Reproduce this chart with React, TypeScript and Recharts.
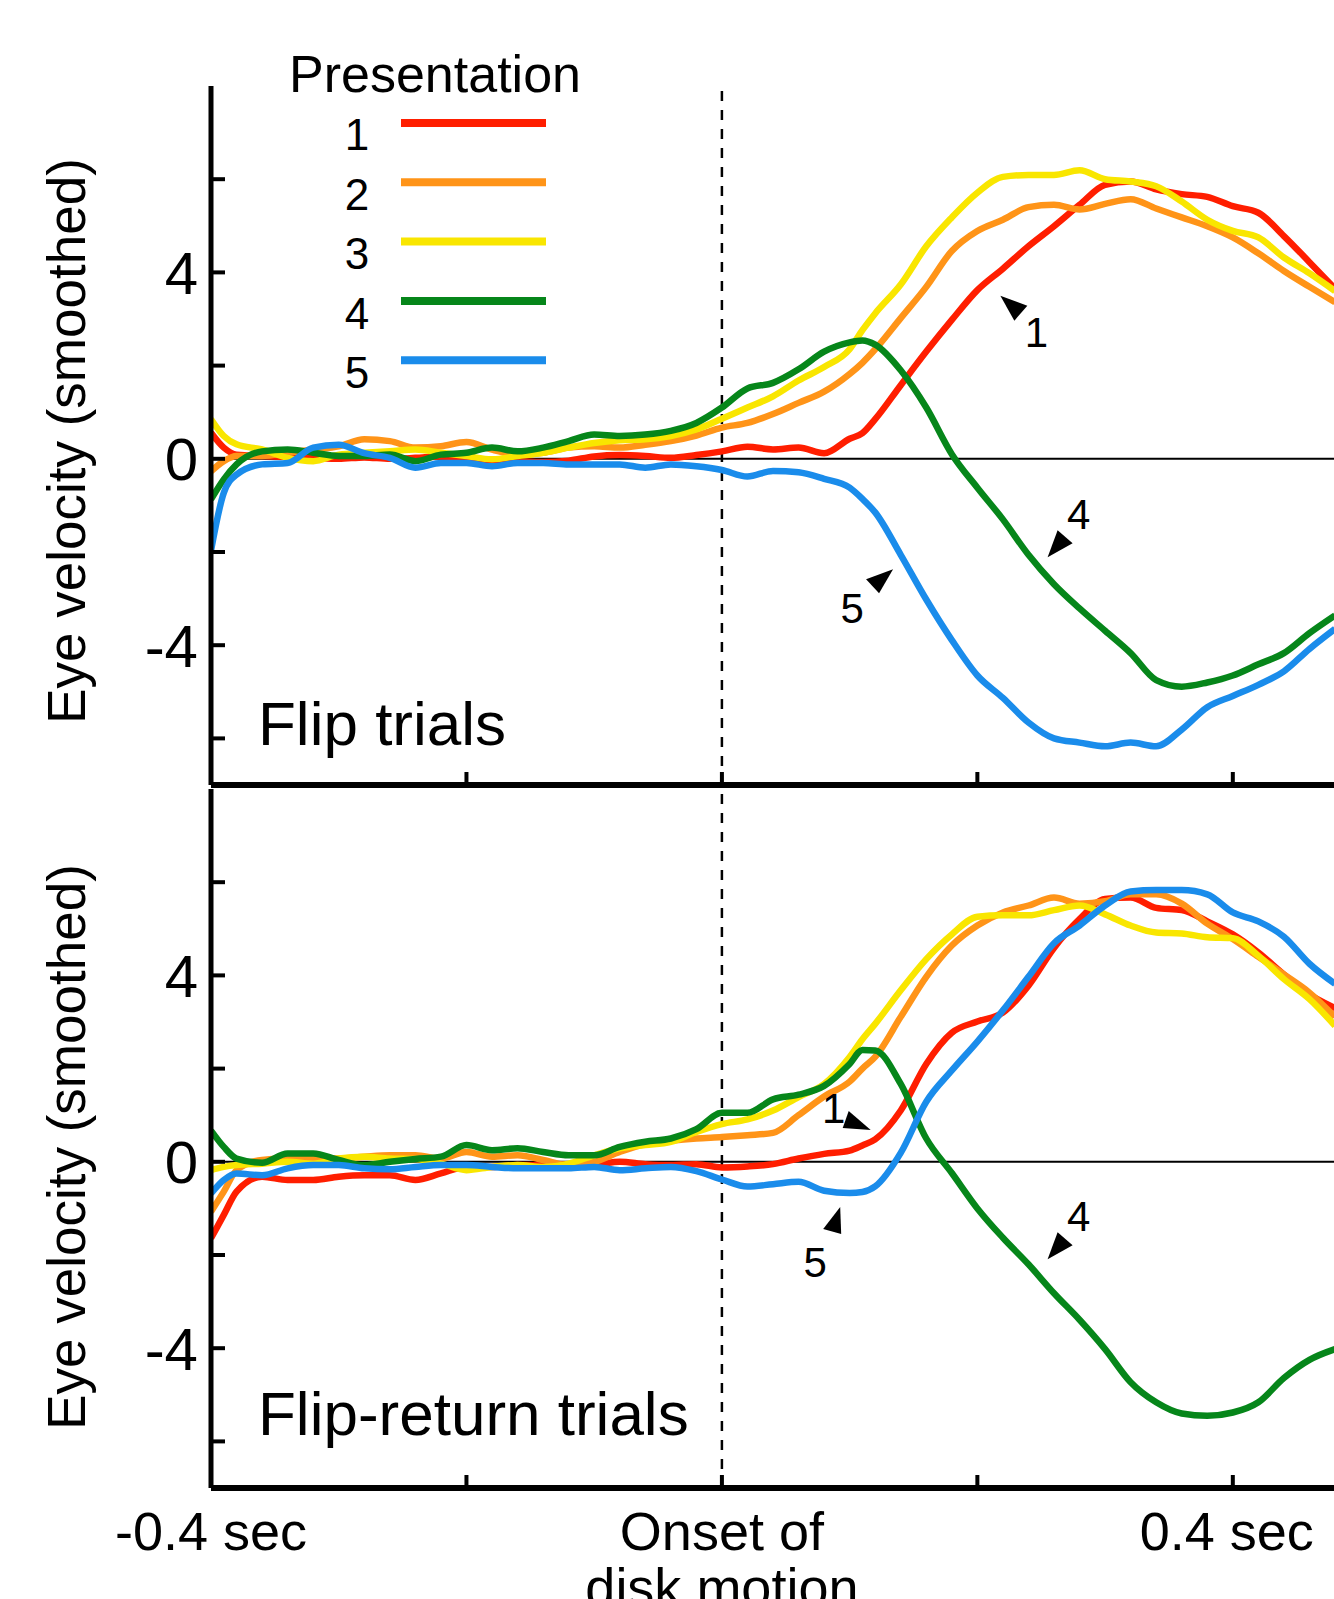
import React from 'react'
import { LineChart, Line, XAxis, YAxis, ReferenceLine, ReferenceDot } from 'recharts'

// time (sec, relative to onset of disk motion)
const times = [
  -0.4, -0.39, -0.38, -0.36, -0.34, -0.32, -0.3, -0.28, -0.26, -0.24, -0.22, -0.2, -0.18, -0.16,
  -0.14, -0.12, -0.1, -0.08, -0.06, -0.04, -0.02, 0, 0.02, 0.04, 0.06, 0.08, 0.1, 0.11, 0.12,
  0.14, 0.16, 0.18, 0.2, 0.22, 0.24, 0.26, 0.28, 0.3, 0.32, 0.34, 0.36, 0.38, 0.4, 0.42, 0.44,
  0.46, 0.48,
]

// Flip trials, presentations 1..5
const flip1 = [
  0.56, 0.24, 0.09, 0.06, 0.04, 0.02, 0.0, 0.03, 0.0, 0.02, 0.05, 0.02, -0.03, -0.05, -0.07, -0.04,
  0.05, 0.08, 0.06, 0.02, 0.08, 0.16, 0.26, 0.2, 0.24, 0.12, 0.43, 0.55, 0.85, 1.58, 2.3, 2.98,
  3.62, 4.08, 4.56, 4.99, 5.45, 5.88, 5.95, 5.78, 5.68, 5.62, 5.42, 5.28, 4.78, 4.22, 3.65,
]
const flip2 = [
  -0.27, -0.05, 0.06, 0.06, 0.13, 0.2, 0.27, 0.42, 0.38, 0.24, 0.27, 0.36, 0.2, 0.09, 0.13, 0.24,
  0.27, 0.24, 0.3, 0.38, 0.5, 0.67, 0.77, 0.96, 1.2, 1.44, 1.82, 2.06, 2.35, 3.02, 3.69, 4.46,
  4.89, 5.13, 5.4, 5.45, 5.35, 5.47, 5.57, 5.37, 5.18, 4.99, 4.75, 4.41, 4.03, 3.69, 3.36,
]
const flip3 = [
  0.85, 0.49, 0.31, 0.2, 0.02, -0.05, 0.09, 0.13, 0.16, 0.2, 0.13, 0.06, -0.01, 0.06, 0.13, 0.24,
  0.34, 0.4, 0.42, 0.49, 0.63, 0.86, 1.1, 1.34, 1.68, 1.97, 2.35, 2.76, 3.12, 3.74, 4.56, 5.18,
  5.71, 6.05, 6.09, 6.09, 6.19, 6.0, 5.95, 5.85, 5.52, 5.13, 4.89, 4.75, 4.32, 3.98, 3.6,
]
const flip4 = [
  -0.87, -0.44, -0.12, 0.16, 0.2, 0.13, 0.06, 0.06, 0.09, -0.05, 0.09, 0.13, 0.24, 0.16, 0.24, 0.38,
  0.52, 0.49, 0.52, 0.6, 0.77, 1.1, 1.51, 1.63, 1.92, 2.3, 2.5, 2.54, 2.45, 1.9, 1.1, 0.1,
  -0.62, -1.3, -2.06, -2.69, -3.21, -3.69, -4.17, -4.75, -4.89, -4.8, -4.65, -4.41, -4.17, -3.74,
  -3.36,
]
const flip5 = [
  -1.97, -0.73, -0.34, -0.12, -0.09, 0.24, 0.3, 0.12, 0.02, -0.19, -0.09, -0.09, -0.16, -0.09,
  -0.09, -0.12, -0.12, -0.12, -0.19, -0.12, -0.16, -0.24, -0.38, -0.26, -0.29, -0.43, -0.62, -0.86,
  -1.15, -2.06, -3.02, -3.89, -4.65, -5.13, -5.66, -6.0, -6.09, -6.17, -6.09, -6.17, -5.81, -5.33,
  -5.09, -4.85, -4.56, -4.08, -3.65,
]

// Flip-return trials, presentations 1..5
const flipReturn1 = [
  -1.64, -1.14, -0.64, -0.32, -0.39, -0.39, -0.32, -0.29, -0.29, -0.39, -0.25, -0.11, -0.11, -0.07,
  -0.07, -0.05, -0.05, 0.0, -0.05, -0.07, -0.05, -0.12, -0.1, -0.05, 0.07, 0.17, 0.24, 0.35, 0.48,
  1.1, 2.1, 2.77, 3.01, 3.2, 3.78, 4.59, 5.21, 5.64, 5.67, 5.45, 5.4, 5.16, 4.88, 4.49, 4.02, 3.59,
  3.3,
]
const flipReturn2 = [
  -1.07, -0.64, -0.18, 0.04, 0.07, 0.07, 0.07, 0.11, 0.14, 0.14, 0.07, 0.21, 0.11, 0.14, 0.04,
  -0.07, 0.0, 0.21, 0.38, 0.45, 0.5, 0.53, 0.57, 0.62, 1.0, 1.4, 1.72, 2.0, 2.25, 3.11, 3.97,
  4.64, 5.07, 5.35, 5.5, 5.67, 5.54, 5.59, 5.74, 5.74, 5.54, 5.11, 4.78, 4.4, 4.02, 3.63, 3.11,
]
const flipReturn3 = [
  -0.18, -0.11, -0.07, -0.04, 0.0, -0.04, 0.07, 0.11, 0.07, 0.06, -0.04, -0.18, -0.11, -0.07, -0.11,
  -0.04, 0.14, 0.29, 0.36, 0.43, 0.64, 0.81, 0.91, 1.1, 1.39, 1.67, 2.25, 2.63, 2.96, 3.68, 4.35,
  4.88, 5.26, 5.29, 5.29, 5.4, 5.5, 5.31, 5.07, 4.92, 4.9, 4.82, 4.8, 4.42, 3.92, 3.49, 2.92,
]
const flipReturn4 = [
  0.67, 0.32, 0.07, -0.02, 0.18, 0.18, 0.04, -0.07, 0.0, 0.06, 0.11, 0.36, 0.25, 0.29, 0.21, 0.14,
  0.14, 0.32, 0.43, 0.5, 0.7, 1.05, 1.05, 1.34, 1.44, 1.63, 2.1, 2.4, 2.39, 1.67, 0.5, -0.24, -1.0,
  -1.63, -2.2, -2.82, -3.39, -4.02, -4.73, -5.16, -5.4, -5.45, -5.38, -5.16, -4.64, -4.25, -4.02,
]
const flipReturn5 = [
  -0.68, -0.39, -0.25, -0.29, -0.14, -0.07, -0.07, -0.14, -0.16, -0.11, -0.07, -0.07, -0.11, -0.14,
  -0.14, -0.14, -0.11, -0.18, -0.14, -0.11, -0.2, -0.38, -0.53, -0.48, -0.43, -0.62, -0.67, -0.65,
  -0.53, 0.19, 1.29, 1.96, 2.58, 3.25, 3.97, 4.69, 5.07, 5.5, 5.8, 5.83, 5.83, 5.74, 5.35, 5.16,
  4.83, 4.25, 3.82,
]

const seriesNames = ['1', '2', '3', '4', '5']
const seriesColors = ['#ff1e00', '#ff9418', '#f9e600', '#06861a', '#1a8ceb']

const yTicks = [-6, -4, -2, 0, 2, 4, 6]
const yLabelled = [-4, 0, 4]
const xTicks = [-0.4, -0.2, 0, 0.2, 0.4]
const xTickLabels = [['-0.4 sec'], [], ['Onset of', 'disk motion'], [], ['0.4 sec']]

// arrow annotations (tip position in data units)
const flipNotes = [
  { t: 0.218, v: 3.5, label: '1', kind: 'upLeft' },
  { t: 0.255, v: -2.11, label: '4', kind: 'downLeft' },
  { t: 0.134, v: -2.37, label: '5', kind: 'upRight' },
]
const flipReturnNotes = [
  { t: 0.1165, v: 0.68, label: '1', kind: 'right' },
  { t: 0.0926, v: -0.97, label: '5', kind: 'up' },
  { t: 0.255, v: -2.09, label: '4', kind: 'downLeft' },
]

const FONT = '"Liberation Sans", Arial, Helvetica, sans-serif'

const arrowShapes: Record<string, { tri: number[][]; text: number[] }> = {
  upLeft: { tri: [[0, 0], [27, 10], [14, 25]], text: [36, 36] },
  downLeft: { tri: [[0, 0], [25, -14], [10, -27]], text: [31, -43] },
  upRight: { tri: [[0, 0], [-27, 10], [-14, 24]], text: [-41, 39] },
  right: { tri: [[0, 0], [-28, -2], [-22, -19]], text: [-37, -22] },
  up: { tri: [[0, 0], [-17, 22], [1, 27]], text: [-25, 55] },
}

function Note({ cx, cy, label, kind }: any) {
  const s = arrowShapes[kind]
  const pts = s.tri.map(([dx, dy]) => `${cx + dx},${cy + dy}`).join(' ')
  return (
    <g>
      <polygon points={pts} fill="#000" />
      <text
        x={cx + s.text[0]}
        y={cy + s.text[1]}
        dy="0.36em"
        textAnchor="middle"
        fontSize={42}
        fontFamily={FONT}
      >
        {label}
      </text>
    </g>
  )
}

function YTick(props: any) {
  const { x, y, payload } = props
  const v = payload.value
  return (
    <g>
      <line x1={x} x2={x + 14} y1={y} y2={y} stroke="#000" strokeWidth={4} />
      {yLabelled.includes(v) && (
        <text x={x - 13} y={y} dy="0.36em" textAnchor="end" fontSize={60} fontFamily={FONT}>
          {v}
        </text>
      )}
    </g>
  )
}

const makeXTick = (showLabels: boolean) => (props: any) => {
  const { x, y, payload } = props
  const idx = xTicks.indexOf(payload.value)
  const lines = showLabels && idx >= 0 ? xTickLabels[idx] : []
  // last label sits a little left of its tick in the original
  const dx = idx === xTicks.length - 1 ? -6 : 0
  return (
    <g>
      {idx > 0 && <line x1={x} x2={x} y1={y} y2={y - 13} stroke="#000" strokeWidth={4} />}
      {lines.map((s, i) => (
        <text
          key={s}
          x={x + dx}
          y={y + 62 + i * 56}
          textAnchor="middle"
          fontSize={54}
          fontFamily={FONT}
        >
          {s}
        </text>
      ))}
    </g>
  )
}

function buildRows(cols: number[][]) {
  return times.map((t, i) => {
    const row: any = { t }
    cols.forEach((c, k) => (row['s' + (k + 1)] = c[i]))
    return row
  })
}

const flipRows = buildRows([flip1, flip2, flip3, flip4, flip5])
const flipReturnRows = buildRows([flipReturn1, flipReturn2, flipReturn3, flipReturn4, flipReturn5])

function Panel({ rows, notes, top, height, marginTop, xAxisHeight, showXLabels }: any) {
  return (
    <div style={{ position: 'absolute', left: 0, top }}>
      <LineChart
        width={1335}
        height={height}
        data={rows}
        margin={{ top: marginTop, right: 0, bottom: 0, left: 0 }}
      >
        <XAxis
          dataKey="t"
          type="number"
          domain={[-0.4, 0.48]}
          ticks={xTicks}
          interval={0}
          allowDataOverflow
          height={xAxisHeight}
          tickSize={0}
          tickMargin={0}
          tickLine={false}
          axisLine={{ stroke: '#000', strokeWidth: 6 }}
          tick={makeXTick(showXLabels)}
        />
        <YAxis
          type="number"
          domain={[-7, 8]}
          ticks={yTicks}
          interval={0}
          allowDataOverflow
          width={211}
          tickSize={0}
          tickMargin={0}
          tickLine={false}
          axisLine={{ stroke: '#000', strokeWidth: 5 }}
          tick={YTick}
        />
        <ReferenceLine y={0} stroke="#000" strokeWidth={2} />
        <ReferenceLine x={0} stroke="#000" strokeWidth={2.5} strokeDasharray="10 9" />
        {seriesNames.map((n, i) => (
          <Line
            key={n}
            dataKey={'s' + (i + 1)}
            name={n}
            type="monotone"
            stroke={seriesColors[i]}
            strokeWidth={6.5}
            dot={false}
            isAnimationActive={false}
          />
        ))}
        {notes.map((a: any) => (
          <ReferenceDot
            key={a.label}
            x={a.t}
            y={a.v}
            r={1}
            ifOverflow="visible"
            shape={(p: any) => <Note cx={p.cx} cy={p.cy} label={a.label} kind={a.kind} />}
          />
        ))}
      </LineChart>
    </div>
  )
}

export default function App() {
  return (
    <div
      style={{
        position: 'absolute',
        left: 0,
        top: 0,
        width: 1334,
        height: 1599,
        overflow: 'hidden',
        background: '#fff',
      }}
    >
      <Panel rows={flipRows} notes={flipNotes} top={0} height={790} marginTop={86} xAxisHeight={5} showXLabels={false} />
      <Panel rows={flipReturnRows} notes={flipReturnNotes} top={785} height={814} marginTop={4} xAxisHeight={111} showXLabels />
      <svg
        width={1334}
        height={1599}
        style={{ position: 'absolute', left: 0, top: 0, pointerEvents: 'none' }}
        fontFamily={FONT}
      >
        <text x={289} y={92} fontSize={52}>Presentation</text>
        {seriesNames.map((n, i) => (
          <g key={n}>
            <text x={357} y={150 + i * 59.5} textAnchor="middle" fontSize={44}>{n}</text>
            <line x1={401} x2={546} y1={123 + i * 59.3} y2={123 + i * 59.3} stroke={seriesColors[i]} strokeWidth={8} />
          </g>
        ))}
        <text x={258} y={745} fontSize={62}>Flip trials</text>
        <text x={258} y={1435} fontSize={62}>Flip-return trials</text>
        <text transform="translate(85,441) rotate(-90)" textAnchor="middle" fontSize={53}>
          Eye velocity (smoothed)
        </text>
        <text transform="translate(85,1147) rotate(-90)" textAnchor="middle" fontSize={53}>
          Eye velocity (smoothed)
        </text>
      </svg>
    </div>
  )
}
